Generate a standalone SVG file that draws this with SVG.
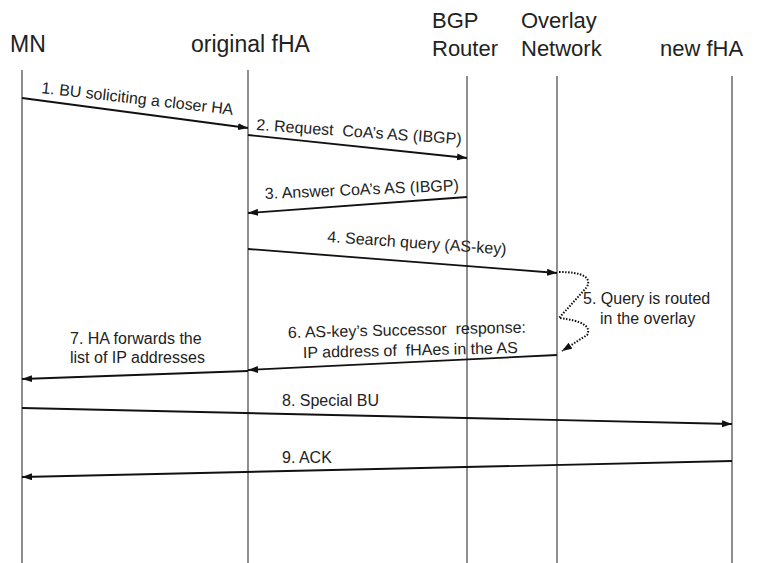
<svg xmlns="http://www.w3.org/2000/svg" width="768" height="563" viewBox="0 0 768 563">
<style>
.hdr{font-family:"Liberation Sans",Arial,sans-serif;font-size:23px;fill:#222}
.hdr2{font-family:"Liberation Sans",Arial,sans-serif;font-size:22px;fill:#222}
.lbl{font-family:"Liberation Sans",Arial,sans-serif;font-size:16px;fill:#222;white-space:pre}
.life{stroke:#444;stroke-width:1.2;fill:none}
.msg{stroke:#111;stroke-width:1.8;fill:none;marker-end:url(#ah)}
.dot{stroke:#111;stroke-width:2;fill:none;stroke-dasharray:1.5 1.5;marker-end:url(#ah)}
</style>
<defs>
<marker id="ah" markerUnits="userSpaceOnUse" markerWidth="11" markerHeight="8" refX="10" refY="3.5" orient="auto">
<path d="M0,0 L10,3.5 L0,7 z" fill="#111"/>
</marker>
</defs>
<rect width="768" height="563" fill="#fff"/>
<g id="node-mn">
<text class="hdr" x="10" y="52">MN</text>
<line class="life" x1="22" y1="70" x2="22" y2="563"/>
</g>
<g id="node-original-fha">
<text class="hdr" x="191" y="52">original fHA</text>
<line class="life" x1="248" y1="70" x2="248" y2="563"/>
</g>
<g id="node-bgp-router">
<text class="hdr2" x="432" y="28">BGP</text>
<text class="hdr2" x="432" y="56">Router</text>
<line class="life" x1="467" y1="76" x2="467" y2="563"/>
</g>
<g id="node-overlay">
<text class="hdr2" x="521" y="28">Overlay</text>
<text class="hdr2" x="521" y="56">Network</text>
<line class="life" x1="557" y1="76" x2="557" y2="563"/>
</g>
<g id="node-new-fha">
<text class="hdr2" x="660" y="56">new fHA</text>
<line class="life" x1="732" y1="76" x2="732" y2="563"/>
</g>
<g id="connectors">
<line class="msg" x1="22" y1="98" x2="248" y2="128"/>
<text class="lbl" font-size="15.5" transform="translate(41,93) rotate(6.5)">1. BU soliciting a closer HA</text>
<line class="msg" x1="248" y1="135" x2="467" y2="158"/>
<text class="lbl" transform="translate(256,130) rotate(4)">2. Request  CoA’s AS (IBGP)</text>
<line class="msg" x1="467" y1="197" x2="248" y2="213"/>
<text class="lbl" transform="translate(265,199) rotate(-2.5)">3. Answer CoA’s AS (IBGP)</text>
<line class="msg" x1="248" y1="249" x2="557" y2="273"/>
<text class="lbl" transform="translate(327,242) rotate(4)">4. Search query (AS-key)</text>
<path class="dot" d="M559,272 Q594,272 587,287 L559,318 Q594,322 587,335 L562,351"/>
<text class="lbl" x="583" y="304" font-size="14.5">5. Query is routed</text>
<text class="lbl" x="600" y="324" font-size="14.5">in the overlay</text>
<line class="msg" x1="557" y1="355" x2="248" y2="370"/>
<text class="lbl" transform="translate(288,338) rotate(-1.3)">6. AS-key’s Successor  response:</text>
<text class="lbl" transform="translate(303,358) rotate(-1.3)">IP address of  fHAes in the AS</text>
<line class="msg" x1="248" y1="371" x2="22" y2="379"/>
<text class="lbl" x="70" y="344">7. HA forwards the</text>
<text class="lbl" x="70" y="363">list of IP addresses</text>
<line class="msg" x1="22" y1="408" x2="732" y2="424"/>
<text class="lbl" x="282" y="406">8. Special BU</text>
<line class="msg" x1="732" y1="461" x2="22" y2="477"/>
<text class="lbl" x="282" y="463">9. ACK</text>
</g>
</svg>
